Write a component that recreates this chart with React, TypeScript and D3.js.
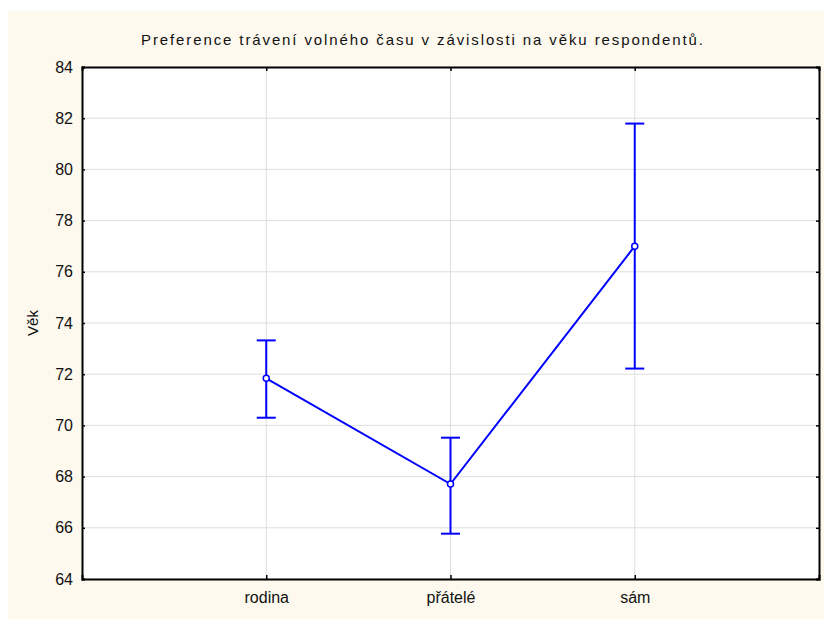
import React, { useEffect, useRef } from 'react';
import * as d3 from 'd3';

const categories = ['rodina', 'přátelé', 'sám'];
const means = [71.84, 67.71, 77.0];
const upper = [73.32, 69.52, 81.79];
const lower = [70.3, 65.77, 72.22];
const yTicks = [64, 66, 68, 70, 72, 74, 76, 78, 80, 82, 84];

const title = 'Preference trávení volného času v závislosti na věku respondentů.';
const yLabel = 'Věk';

export default function App() {
  const ref = useRef<SVGSVGElement>(null);

  useEffect(() => {
    const width = 824;
    const height = 619;
    const margin = { top: 67, right: 5, bottom: 40, left: 82 };
    const w = width - margin.left - margin.right;
    const h = height - margin.top - margin.bottom;

    const svg = d3.select(ref.current);
    svg.selectAll('*').remove();

    svg.append('rect')
      .attr('x', 8).attr('y', 11)
      .attr('width', width - 8).attr('height', height - 11)
      .attr('fill', '#fdf9ef');

    const font = 'Liberation Sans, Arial, sans-serif';

    svg.append('text')
      .attr('x', 422).attr('y', 45)
      .attr('text-anchor', 'middle')
      .attr('font-family', font)
      .attr('font-size', 15)
      .attr('textLength', 562)
      .attr('lengthAdjust', 'spacing')
      .attr('fill', '#111')
      .text(title);

    const g = svg.append('g').attr('transform', `translate(${margin.left},${margin.top})`);

    const x = d3.scalePoint<string>().domain(categories).range([0, w]).padding(1);
    const y = d3.scaleLinear().domain([64, 84]).range([h, 0]);

    g.append('rect').attr('width', w).attr('height', h).attr('fill', '#fff');

    // grid
    g.selectAll('line.hgrid')
      .data(yTicks.slice(1, -1))
      .enter().append('line')
      .attr('x1', 0).attr('x2', w)
      .attr('y1', d => y(d)).attr('y2', d => y(d))
      .attr('stroke', '#dedede').attr('stroke-width', 1);
    g.selectAll('line.vgrid')
      .data(categories)
      .enter().append('line')
      .attr('x1', d => x(d)!).attr('x2', d => x(d)!)
      .attr('y1', 0).attr('y2', h)
      .attr('stroke', '#dedede').attr('stroke-width', 1);

    // axes (ticks inward)
    const left = g.append('g').call(d3.axisLeft(y).tickValues(yTicks).tickSize(-3).tickPadding(9));
    const right = g.append('g').attr('transform', `translate(${w},0)`)
      .call(d3.axisRight(y).tickValues(yTicks).tickSize(-3).tickFormat(() => ''));
    const bottom = g.append('g').attr('transform', `translate(0,${h})`)
      .call(d3.axisBottom(x).tickSize(-4).tickPadding(13));
    const top = g.append('g')
      .call(d3.axisTop(x).tickSize(-4).tickFormat(() => ''));

    [left, right, bottom, top].forEach(a => {
      a.select('.domain').attr('stroke', '#000').attr('stroke-width', 2);
      a.selectAll('.tick line').attr('stroke', '#000').attr('stroke-width', 1.5);
      a.selectAll('text')
        .attr('font-family', font)
        .attr('font-size', 16)
        .attr('fill', '#111');
    });

    g.append('text')
      .attr('transform', `translate(${33 - margin.left},${323 - margin.top}) rotate(-90)`)
      .attr('text-anchor', 'middle')
      .attr('dy', '0.35em')
      .attr('font-family', font)
      .attr('font-size', 15)
      .attr('fill', '#111')
      .text(yLabel);

    const blue = '#0000ff';
    const pts = categories.map((c, i) => ({ c, m: means[i], lo: lower[i], hi: upper[i] }));

    // error bars
    const eb = g.selectAll('g.eb').data(pts).enter().append('g');
    eb.append('line')
      .attr('x1', d => x(d.c)!).attr('x2', d => x(d.c)!)
      .attr('y1', d => y(d.lo)).attr('y2', d => y(d.hi))
      .attr('stroke', blue).attr('stroke-width', 2);
    eb.append('line')
      .attr('x1', d => x(d.c)! - 9.5).attr('x2', d => x(d.c)! + 9.5)
      .attr('y1', d => y(d.hi)).attr('y2', d => y(d.hi))
      .attr('stroke', blue).attr('stroke-width', 2);
    eb.append('line')
      .attr('x1', d => x(d.c)! - 9.5).attr('x2', d => x(d.c)! + 9.5)
      .attr('y1', d => y(d.lo)).attr('y2', d => y(d.lo))
      .attr('stroke', blue).attr('stroke-width', 2);

    const line = d3.line<typeof pts[0]>().x(d => x(d.c)!).y(d => y(d.m));
    g.append('path')
      .datum(pts)
      .attr('d', line)
      .attr('fill', 'none')
      .attr('stroke', blue)
      .attr('stroke-width', 2);

    g.selectAll('circle.pt').data(pts).enter().append('circle')
      .attr('cx', d => x(d.c)!).attr('cy', d => y(d.m))
      .attr('r', 3)
      .attr('fill', '#fff')
      .attr('stroke', blue)
      .attr('stroke-width', 1.5);
  }, []);

  return (
    <svg
      ref={ref}
      width={824}
      height={619}
      style={{ position: 'absolute', left: 0, top: 0, display: 'block' }}
    />
  );
}
